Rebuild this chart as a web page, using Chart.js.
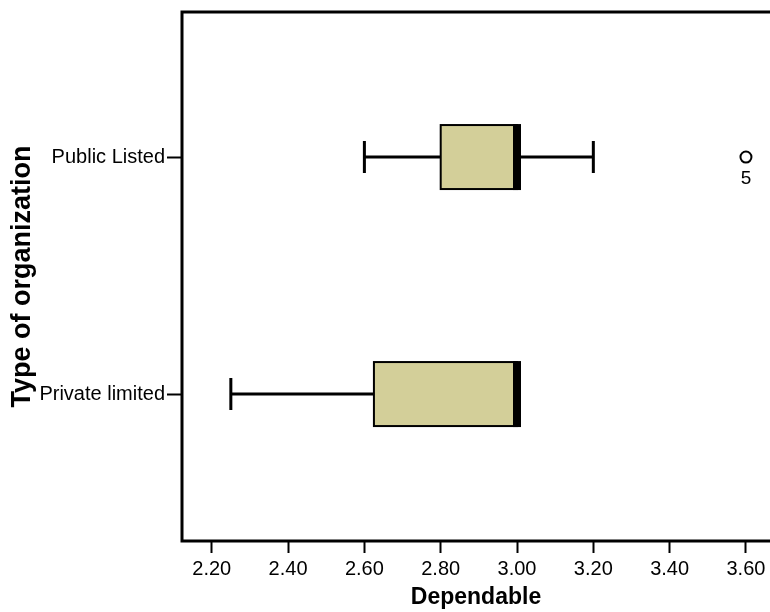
<!DOCTYPE html>
<html lang="en">
<head>
  <meta charset="UTF-8" />
  <title>Dependable by Type of organization</title>
  <script src="https://cdn.jsdelivr.net/npm/chart.js"></script>
  <style>
    html, body { margin: 0; padding: 0; background: #fff; overflow: hidden; }
    .wrap { width: 770px; height: 612px; }
  </style>
</head>
<body>
  <div class="wrap"><canvas id="boxChart"></canvas></div>

  <script>
    // box plot values
    const categories = ["Public Listed", "Private limited"];
    const whiskerLow = [2.60, 2.25];
    const q1 = [2.80, 2.625];
    const median = [3.00, 3.00];
    const q3 = [3.00, 3.00];
    const whiskerHigh = [3.20, 3.00];

    // outliers: category index, value, case label
    const outlierCategory = [0];
    const outlierValue = [3.60];
    const outlierLabel = ["5"];

    const xTicks = [2.20, 2.40, 2.60, 2.80, 3.00, 3.20, 3.40, 3.60];

    const FONT = "'Liberation Sans', Arial, sans-serif";
    const boxFill = "#d3cf99";

    // draws boxes, whiskers and the frame through the chart scales
    const boxPlot = {
      id: "boxPlot",
      beforeDatasetsDraw(chart) {
        const { ctx, scales: { x, y } } = chart;
        const half = 32;     // box half height in px
        const cap = 16;      // whisker cap half height
        ctx.save();
        ctx.strokeStyle = "#000";
        categories.forEach((c, i) => {
          const cy = y.getPixelForValue(i);
          const xLo = x.getPixelForValue(whiskerLow[i]);
          const xQ1 = x.getPixelForValue(q1[i]);
          const xMed = x.getPixelForValue(median[i]);
          const xQ3 = x.getPixelForValue(q3[i]);
          const xHi = x.getPixelForValue(whiskerHigh[i]);

          ctx.lineWidth = 3;
          ctx.beginPath();
          ctx.moveTo(xLo, cy); ctx.lineTo(xQ1, cy);
          ctx.moveTo(xQ3, cy); ctx.lineTo(xHi, cy);
          ctx.moveTo(xLo, cy - cap); ctx.lineTo(xLo, cy + cap);
          if (xHi > xQ3) { ctx.moveTo(xHi, cy - cap); ctx.lineTo(xHi, cy + cap); }
          ctx.stroke();

          ctx.fillStyle = boxFill;
          ctx.fillRect(xQ1, cy - half, xQ3 - xQ1, half * 2);
          ctx.lineWidth = 2;
          ctx.strokeRect(xQ1, cy - half, xQ3 - xQ1, half * 2);

          ctx.lineWidth = 8;
          ctx.beginPath();
          ctx.moveTo(xMed, cy - half - 1);
          ctx.lineTo(xMed, cy + half + 1);
          ctx.stroke();
        });

        // case labels under outliers
        ctx.fillStyle = "#000";
        ctx.font = "19px " + FONT;
        ctx.textAlign = "center";
        ctx.textBaseline = "middle";
        outlierValue.forEach((v, k) => {
          ctx.fillText(outlierLabel[k], x.getPixelForValue(v), y.getPixelForValue(outlierCategory[k]) + 22);
        });
        ctx.restore();
      },
      afterDraw(chart) {
        const { ctx, chartArea: a } = chart;
        ctx.save();
        ctx.strokeStyle = "#000";
        ctx.lineWidth = 3;
        ctx.beginPath();
        ctx.moveTo(chart.width, a.top);
        ctx.lineTo(a.left, a.top);
        ctx.lineTo(a.left, a.bottom);
        ctx.lineTo(chart.width, a.bottom);
        ctx.stroke();
        ctx.restore();
      }
    };

    new Chart(document.getElementById("boxChart"), {
      type: "scatter",
      data: {
        datasets: [{
          label: "Outliers",
          data: outlierValue.map((v, k) => ({ x: v, y: outlierCategory[k] })),
          pointStyle: "circle",
          pointRadius: 5.5,
          borderColor: "#000",
          borderWidth: 2,
          backgroundColor: "rgba(0,0,0,0)"
        }]
      },
      options: {
        responsive: true,
        maintainAspectRatio: false,
        animation: false,
        layout: { autoPadding: false, padding: { top: 12, right: 0, left: 0, bottom: 0 } },
        plugins: { legend: { display: false }, tooltip: { enabled: false } },
        scales: {
          x: {
            type: "linear",
            min: 2.122,
            max: 3.663,
            afterBuildTicks: s => { s.ticks = xTicks.map(v => ({ value: v })); },
            afterFit: s => { s.height = 71; s.paddingLeft = 0; s.paddingRight = 0; },
            grid: { drawOnChartArea: false, tickLength: 12, tickWidth: 2, tickColor: "#000" },
            border: { display: false },
            ticks: {
              color: "#000",
              padding: 4,
              maxRotation: 0,
              font: { family: FONT, size: 20 },
              callback: v => v.toFixed(2)
            },
            title: {
              display: true,
              text: "Dependable",
              color: "#000",
              padding: { top: 0, bottom: 1 },
              font: { family: FONT, size: 23, weight: "bold" }
            }
          },
          y: {
            type: "linear",
            reverse: true,
            min: -0.612,
            max: 1.62,
            afterBuildTicks: s => { s.ticks = categories.map((c, i) => ({ value: i })); },
            afterFit: s => { s.width = 182; s.paddingTop = 0; s.paddingBottom = 0; },
            grid: { drawOnChartArea: false, tickLength: 15, tickWidth: 2, tickColor: "#000" },
            border: { display: false },
            ticks: {
              color: "#000",
              padding: 2,
              font: { family: FONT, size: 20 },
              callback: v => categories[v]
            },
            title: {
              display: true,
              text: "Type of organization",
              color: "#000",
              padding: { top: 6, bottom: 0 },
              font: { family: FONT, size: 27, weight: "bold" }
            }
          }
        }
      },
      plugins: [boxPlot]
    });
  </script>
</body>
</html>
